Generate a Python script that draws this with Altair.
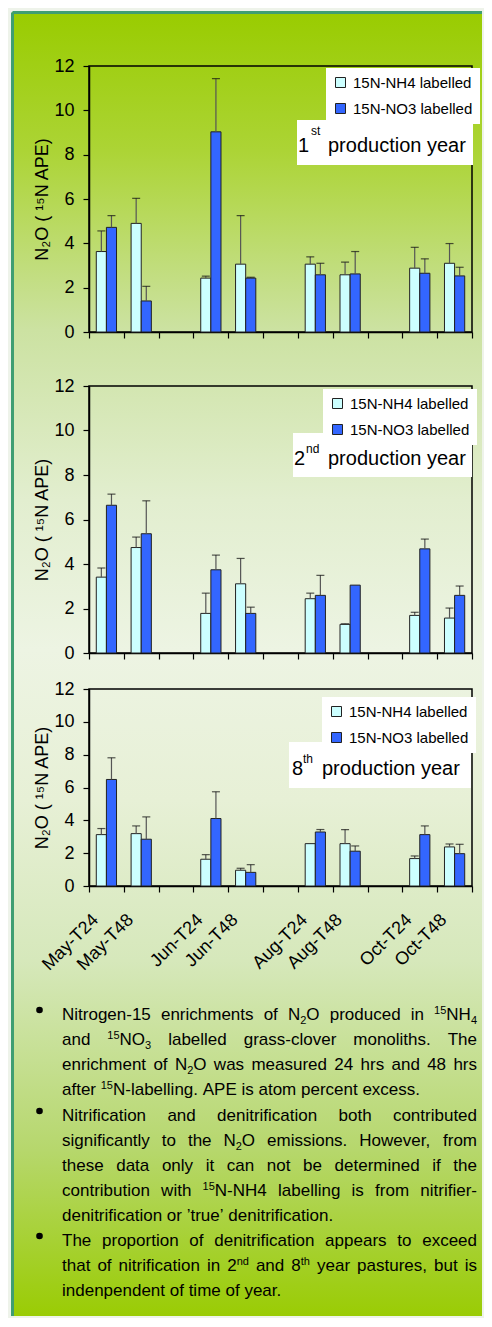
import re
import altair as alt
import pandas as pd

FONT = "Liberation Sans"

# ---------------- data ----------------
categories = ["May-T24", "May-T48", " ", "Jun-T24", "Jun-T48", "  ",
              "Aug-T24", "Aug-T48", "   ", "Oct-T24", "Oct-T48"]
sampled = ["May-T24", "May-T48", "Jun-T24", "Jun-T48",
           "Aug-T24", "Aug-T48", "Oct-T24", "Oct-T48"]
series_names = ["15N-NH4 labelled", "15N-NO3 labelled"]
series_colors = ["#ccffff", "#3366ff"]
y_ticks = [0, 2, 4, 6, 8, 10, 12]
y_title = "N₂O ( ¹⁵N APE)"

# 1st production year: means and top of error bars
y1_nh4 = [3.63, 4.90, 2.43, 3.06, 3.06, 2.58, 2.88, 3.10]
y1_nh4_hi = [4.56, 6.03, 2.52, 5.25, 3.39, 3.15, 3.82, 3.99]
y1_no3 = [4.72, 1.40, 9.03, 2.43, 2.58, 2.62, 2.65, 2.53]
y1_no3_hi = [5.25, 2.06, 11.43, 2.47, 3.10, 3.63, 3.30, 2.92]
# 2nd production year
y2_nh4 = [3.41, 4.74, 1.78, 3.11, 2.44, 1.29, 1.69, 1.57]
y2_nh4_hi = [3.82, 5.21, 2.69, 4.25, 2.69, 1.31, 1.83, 2.02]
y2_no3 = [6.64, 5.36, 3.74, 1.78, 2.59, 3.05, 4.68, 2.59]
y2_no3_hi = [7.14, 6.84, 4.40, 2.06, 3.49, 3.05, 5.12, 3.01]
# 8th production year
y8_nh4 = [3.13, 3.19, 1.63, 0.96, 2.58, 2.58, 1.67, 2.38]
y8_nh4_hi = [3.50, 3.66, 1.91, 1.08, 2.58, 3.44, 1.83, 2.56]
y8_no3 = [6.49, 2.85, 4.11, 0.83, 3.29, 2.12, 3.13, 1.97]
y8_no3_hi = [7.81, 4.21, 5.74, 1.30, 3.44, 2.44, 3.66, 2.54]

paragraphs = [
    ["Nitrogen-15 enrichments of N_{2}O produced in ^{15}NH_{4}",
     "and ^{15}NO_{3} labelled grass-clover monoliths. The",
     "enrichment of N_{2}O was measured 24 hrs and 48 hrs",
     "after ^{15}N-labelling. APE is atom percent excess."],
    ["Nitrification and denitrification both contributed",
     "significantly to the N_{2}O emissions. However, from",
     "these data only it can not be determined if the",
     "contribution with ^{15}N-NH4 labelling is from nitrifier-",
     "denitrification or ’true’ denitrification."],
    ["The proportion of denitrification appears to exceed",
     "that of nitrification in 2^{nd} and 8^{th} year pastures, but is",
     "indenpendent of time of year."],
]

# ---------------- layout / style ----------------
W = 383
BORDER = "#3f9e72"
bg_stops = [(0.0, "#99cc00"), (0.106, "#acd435"), (0.244, "#cce2a2"),
            (0.374, "#e2eecf"), (0.489, "#edf4e3"), (0.604, "#e7f0d6"),
            (0.727, "#d6e8bb"), (0.873, "#b6d76c"), (1.0, "#9acc04")]

one = pd.DataFrame({"k": [0]})


def long_df(nh4, nh4_hi, no3, no3_hi):
    rows = []
    for i, c in enumerate(sampled):
        rows.append(dict(cat=c, series=series_names[0], value=nh4[i], hi=nh4_hi[i]))
        rows.append(dict(cat=c, series=series_names[1], value=no3[i], hi=no3_hi[i]))
    return pd.DataFrame(rows)


def x_enc(labels):
    return alt.X("cat:N", title=None,
                 scale=alt.Scale(domain=categories, paddingInner=0, paddingOuter=0),
                 axis=alt.Axis(tickBand="extent", tickSize=6, tickColor="black",
                               tickWidth=1.2, domainColor="black", domainWidth=1.5,
                               labels=labels, labelAngle=315, labelAlign="right",
                               labelBaseline="middle", labelPadding=25, labelOffset=-11,
                               labelFontSize=18, labelFont=FONT, labelColor="black",
                               labelOverlap=False))


def y_enc(field):
    return alt.Y(field, title=y_title,
                 scale=alt.Scale(domain=[0, 12], nice=False),
                 axis=alt.Axis(values=y_ticks, grid=False, tickSize=6, tickColor="black",
                               tickWidth=1.2, domainColor="black", domainWidth=1.5,
                               labelFontSize=18, labelFont=FONT, labelColor="black",
                               labelPadding=9, titleFontSize=18, titleFont=FONT,
                               titleFontWeight="normal", titleColor="black",
                               titlePadding=2))


def panel(nh4, nh4_hi, no3, no3_hi, height, leg_xy, box, ordinal, suffix, labels):
    df = long_df(nh4, nh4_hi, no3, no3_hi)
    base = alt.Chart(df)
    xo = alt.XOffset("series:N", scale=alt.Scale(domain=series_names,
                                                  paddingInner=0, paddingOuter=0.72))
    legend = alt.Legend(title=None, orient="none", legendX=leg_xy[0], legendY=leg_xy[1],
                        fillColor="white", padding=7, rowPadding=10, labelOffset=5,
                        labelFontSize=15, labelFont=FONT, labelColor="black",
                        symbolType="square", symbolSize=100, symbolStrokeColor="#222222",
                        symbolStrokeWidth=1, symbolOpacity=1)
    bars = base.mark_bar(stroke="#222222", strokeWidth=1).encode(
        x=x_enc(labels), xOffset=xo, y=y_enc("value:Q"),
        color=alt.Color("series:N", scale=alt.Scale(domain=series_names, range=series_colors),
                        legend=legend))
    err = base.transform_filter("datum.hi > datum.value")
    stems = err.mark_rule(color="#555555", strokeWidth=1.2).encode(
        x=x_enc(labels), xOffset=xo, y=y_enc("value:Q"), y2="hi:Q")
    caps = err.mark_tick(color="#111111", thickness=1.2, size=8, orient="horizontal").encode(
        x=x_enc(labels), xOffset=xo, y=y_enc("hi:Q"))
    bx0, bx1, by0, by1, t1x, t2x, t2y, t3x, base_y = box
    boxm = alt.Chart(one).mark_rect(color="white").encode(
        x=alt.value(bx0), x2=alt.value(bx1), y=alt.value(by0), y2=alt.value(by1))
    txt = dict(align="left", baseline="alphabetic", font=FONT, color="black")
    tnum = alt.Chart(one).mark_text(fontSize=20, **txt).encode(
        x=alt.value(t1x), y=alt.value(base_y), text=alt.value(ordinal))
    tsup = alt.Chart(one).mark_text(fontSize=12, **txt).encode(
        x=alt.value(t2x), y=alt.value(t2y), text=alt.value(suffix))
    tword = alt.Chart(one).mark_text(fontSize=20, **txt).encode(
        x=alt.value(t3x), y=alt.value(base_y), text=alt.value("production year"))
    return alt.layer(bars, stems, caps, boxm, tnum, tsup, tword).properties(
        width=W, height=height)


def spacer(h):
    return alt.Chart(one).mark_point(opacity=0).encode(
        x=alt.value(0), y=alt.value(0)).properties(
        width=W, height=h, view=alt.ViewBackground(strokeOpacity=0))


# background panel (drawn first, below everything); kept inside the page
PANEL_R, PANEL_B = 393, 1263
bg_grad = alt.LinearGradient(
    gradient="linear",
    stops=[alt.GradientStop(color=c, offset=o) for o, c in bg_stops],
    x1=0, x2=0, y1=0, y2=1)
header = alt.layer(
    alt.Chart(one).mark_rect(fill=bg_grad).encode(
        x=alt.value(-77), x2=alt.value(PANEL_R), y=alt.value(-41), y2=alt.value(PANEL_B)),
    alt.Chart(one).mark_rule(color=BORDER, strokeWidth=3).encode(
        x=alt.value(-76.5), y=alt.value(-40.5), y2=alt.value(PANEL_B)),
    alt.Chart(one).mark_rule(color=BORDER, strokeWidth=3).encode(
        x=alt.value(-76.5), x2=alt.value(PANEL_R), y=alt.value(-40.5)),
).properties(width=W, height=1, view=alt.ViewBackground(strokeOpacity=0))

c1 = panel(y1_nh4, y1_nh4_hi, y1_no3, y1_no3_hi, 266, (237, 2),
           (208, 384, 54, 99, 209, 222, 69, 239, 86), "1", "st", False)
c2 = panel(y2_nh4, y2_nh4_hi, y2_no3, y2_no3_hi, 267, (234, 3),
           (204, 383, 47, 91, 205, 217, 67, 239, 79), "2", "nd", False)
c3 = panel(y8_nh4, y8_nh4_hi, y8_no3, y8_no3_hi, 197, (233, 8),
           (200, 382, 53, 99, 203, 214, 74, 233, 86), "8", "th", True)

# ---------------- text panel ----------------
CW = {}
for ch, w in zip("abcdefghijklmnopqrstuvwxyz",
                 [556, 556, 500, 556, 556, 278, 556, 556, 222, 222, 500, 222, 833,
                  556, 556, 556, 556, 333, 500, 278, 556, 500, 722, 500, 500, 500]):
    CW[ch] = w
for ch, w in zip("ABCDEFGHIJKLMNOPQRSTUVWXYZ",
                 [667, 667, 722, 722, 667, 611, 778, 722, 278, 500, 667, 556, 833,
                  722, 778, 667, 778, 722, 667, 611, 722, 667, 944, 667, 667, 611]):
    CW[ch] = w
for ch in "0123456789":
    CW[ch] = 556
CW.update({" ": 278, ".": 278, ",": 278, "-": 333, "’": 222, "'": 191, "(": 333, ")": 333})

FS, FS_S = 17, 11
SUP_DY, SUB_DY = -6, 4
TEXT_LEFT, TEXT_RIGHT = -27, 388
para_first = [122, 223, 348]
LINE_STEP = 25


def tw(s, fs):
    return sum(CW.get(ch, 556) for ch in s) / 1000.0 * fs


def segs(word):
    out = []
    for m in re.finditer(r"\^\{([^}]*)\}|_\{([^}]*)\}|([^\^_]+)", word):
        if m.group(1) is not None:
            out.append((m.group(1), FS_S, SUP_DY))
        elif m.group(2) is not None:
            out.append((m.group(2), FS_S, SUB_DY))
        else:
            out.append((m.group(3), FS, 0))
    return out


rows = []
bullets = []
for p, lines in enumerate(paragraphs):
    for li, line in enumerate(lines):
        base_y = para_first[p] + LINE_STEP * li
        words = line.split(" ")
        wsegs = [segs(w) for w in words]
        wws = [sum(tw(t, f) for t, f, _ in s) for s in wsegs]
        justified = li < len(lines) - 1
        if justified and len(words) > 1:
            gap = (TEXT_RIGHT - TEXT_LEFT - sum(wws)) / (len(words) - 1)
        else:
            gap = tw(" ", FS)
        x = TEXT_LEFT
        for s, ww in zip(wsegs, wws):
            xx = x
            for t, f, dy in s:
                rows.append(dict(px=xx, py=base_y + dy, txt=t, fs=f))
                xx += tw(t, f)
            x += ww + gap
    bullets.append(dict(px=-49.5, py=para_first[p] - 10))

text_df = pd.DataFrame(rows)
bullet_df = pd.DataFrame(bullets)
TH = 400
xs = alt.Scale(domain=[0, W], range=[0, W], nice=False, zero=False)
ys = alt.Scale(domain=[0, TH], range=[0, TH], nice=False, zero=False)
text_layer = alt.Chart(text_df).mark_text(
    align="left", baseline="alphabetic", font=FONT, color="black").encode(
    x=alt.X("px:Q", scale=xs, axis=None),
    y=alt.Y("py:Q", scale=ys, axis=None),
    text="txt:N",
    size=alt.Size("fs:Q", scale=None))
bullet_layer = alt.Chart(bullet_df).mark_circle(size=44, color="black", opacity=1).encode(
    x=alt.X("px:Q", scale=xs, axis=None),
    y=alt.Y("py:Q", scale=ys, axis=None))
text_panel = alt.layer(text_layer, bullet_layer).properties(
    width=W, height=TH, view=alt.ViewBackground(strokeOpacity=0))

chart = alt.vconcat(header, c1, spacer(30), c2, spacer(12), c3, text_panel,
                    spacing=12, bounds="flush")
chart = chart.resolve_scale(x="independent", y="independent", color="independent",
                            size="independent").resolve_legend(color="independent")
chart = chart.properties(padding={"left": 3, "top": 3, "right": 0, "bottom": 0},
                         background="#eef3ea")
chart = chart.configure(font=FONT).configure_view(stroke="black", strokeWidth=1.5)

chart.save("out.html", embed_options={"renderer": "svg", "actions": False})
